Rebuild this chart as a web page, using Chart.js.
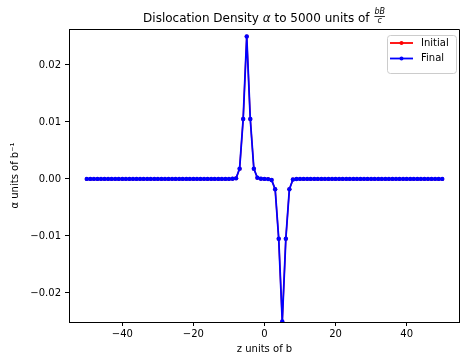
<!DOCTYPE html>
<html>
<head>
<meta charset="utf-8">
<script src="https://cdn.jsdelivr.net/npm/chart.js@4"></script>
<style>
  html, body { margin: 0; padding: 0; background: #fff; }
  #wrap { width: 460px; height: 360px; }
</style>
</head>
<body>
<div id="wrap"><canvas id="c" width="460" height="360"></canvas></div>
<script>
// z positions (units of b), -50..50
var zValues = [
  -50,-49,-48,-47,-46,-45,-44,-43,-42,-41,-40,-39,-38,-37,-36,-35,-34,-33,-32,-31,
  -30,-29,-28,-27,-26,-25,-24,-23,-22,-21,-20,-19,-18,-17,-16,-15,-14,-13,-12,-11,
  -10,-9,-8,-7,-6,-5,-4,-3,-2,-1,0,1,2,3,4,5,6,7,8,9,10,
  11,12,13,14,15,16,17,18,19,20,21,22,23,24,25,26,27,28,29,30,
  31,32,33,34,35,36,37,38,39,40,41,42,43,44,45,46,47,48,49,50
];
// alpha before relaxation
var initialAlpha = [
  0,0,0,0,0,0,0,0,0,0,0,0,0,0,0,0,0,0,0,0,
  0,0,0,0,0,0,0,0,0,0,0,0,0,0,0,0,0,0,0,0,
  0,0.00002,0.0001,0.0018,0.0105,0.025,0.0105,0.0018,0.0002,0.00003,0,
  -0.00003,-0.0002,-0.0018,-0.0105,-0.025,-0.0105,-0.0018,-0.0001,-0.00002,0,
  0,0,0,0,0,0,0,0,0,0,0,0,0,0,0,0,0,0,0,0,
  0,0,0,0,0,0,0,0,0,0,0,0,0,0,0,0,0,0,0,0
];
// alpha after 5000 units of bB/c
var finalAlpha = [
  0,0,0,0,0,0,0,0,0,0,0,0,0,0,0,0,0,0,0,0,
  0,0,0,0,0,0,0,0,0,0,0,0,0,0,0,0,0,0,0,0,
  0,0.00002,0.0001,0.0018,0.0105,0.025,0.0105,0.0018,0.0002,0.00003,0,
  -0.00003,-0.0002,-0.0018,-0.0105,-0.025,-0.0105,-0.0018,-0.0001,-0.00002,0,
  0,0,0,0,0,0,0,0,0,0,0,0,0,0,0,0,0,0,0,0,
  0,0,0,0,0,0,0,0,0,0,0,0,0,0,0,0,0,0,0,0
];
var xTicks = [-40, -20, 0, 20, 40];
var yTicks = [-0.02, -0.01, 0.00, 0.01, 0.02];
var seriesNames = ["Initial", "Final"];
var seriesColors = ["#ff0000", "#0000ff"];

var FONT = "'DejaVu Sans', sans-serif";

function pts(ys) { return zValues.map(function (z, i) { return { x: z, y: ys[i] }; }); }

// title with the bB/c fraction, top/right spines and a matplotlib-like legend
var decor = {
  id: "decor",
  afterDraw: function (chart) {
    var ctx = chart.ctx, a = chart.chartArea;
    ctx.save();
    ctx.strokeStyle = "#000"; ctx.lineWidth = 1;
    ctx.beginPath();
    ctx.moveTo(Math.round(a.left) + 0.5, Math.round(a.top) + 0.5);
    ctx.lineTo(Math.round(a.right) - 0.5, Math.round(a.top) + 0.5);
    ctx.lineTo(Math.round(a.right) - 0.5, Math.round(a.bottom) + 0.5);
    ctx.stroke();

    // title
    var parts = [
      { t: "Dislocation Density ", f: "12px " + FONT },
      { t: "α", f: "italic 12px " + FONT },
      { t: " to 5000 units of ", f: "12px " + FONT }
    ];
    var fracFont = "italic 8px " + FONT;
    var total = 0;
    parts.forEach(function (p) { ctx.font = p.f; p.w = ctx.measureText(p.t).width; total += p.w; });
    ctx.font = fracFont;
    var fw = Math.max(ctx.measureText("bB").width, ctx.measureText("c").width);
    total += fw + 2;
    var x = (a.left + a.right) / 2 - total / 2, base = 22;
    ctx.fillStyle = "#000"; ctx.textBaseline = "alphabetic"; ctx.textAlign = "left";
    parts.forEach(function (p) { ctx.font = p.f; ctx.fillText(p.t, x, base); x += p.w; });
    ctx.font = fracFont;
    ctx.textAlign = "center";
    ctx.fillText("bB", x + 1 + fw / 2, 14);
    ctx.fillText("c", x + 1 + fw / 2, 23);
    ctx.fillRect(x + 1, 16, fw, 0.8);

    // legend
    var lx = 387, ly = 35, lw = 69, lh = 38;
    ctx.fillStyle = "rgba(255,255,255,0.8)";
    ctx.strokeStyle = "#cccccc";
    ctx.beginPath();
    ctx.roundRect(lx + 0.5, ly + 0.5, lw, lh, 3);
    ctx.fill(); ctx.stroke();
    ctx.textAlign = "left"; ctx.textBaseline = "middle";
    ctx.font = "10px " + FONT;
    chart.data.datasets.forEach(function (ds, i) {
      var yy = ly + 8 + i * 15.5;
      ctx.strokeStyle = ds.borderColor; ctx.lineWidth = 1.8;
      ctx.beginPath(); ctx.moveTo(lx + 3, yy); ctx.lineTo(lx + 26, yy); ctx.stroke();
      ctx.fillStyle = ds.borderColor;
      ctx.beginPath(); ctx.arc(lx + 14.5, yy, 2, 0, Math.PI * 2); ctx.fill();
      ctx.fillStyle = "#000";
      ctx.fillText(ds.label, lx + 34, yy);
    });
    ctx.restore();
  }
};

new Chart(document.getElementById("c"), {
  type: "line",
  data: {
    datasets: [
      { label: seriesNames[0], data: pts(initialAlpha), borderColor: seriesColors[0],
        backgroundColor: seriesColors[0], borderWidth: 1.4, pointRadius: 2, pointBorderWidth: 0,
        tension: 0, order: 2 },
      { label: seriesNames[1], data: pts(finalAlpha), borderColor: seriesColors[1],
        backgroundColor: seriesColors[1], borderWidth: 1.8, pointRadius: 2.2, pointBorderWidth: 0,
        tension: 0, order: 1 }
    ]
  },
  options: {
    responsive: false,
    animation: false,
    layout: { autoPadding: false, padding: { top: 29, right: 0, left: 0, bottom: 0 } },
    plugins: { legend: { display: false }, tooltip: { enabled: false } },
    scales: {
      x: {
        type: "linear", min: -55, max: 55,
        afterFit: function (s) { s.height = 38; s.paddingLeft = 0; s.paddingRight = 0; },
        afterBuildTicks: function (s) { s.ticks = xTicks.map(function (v) { return { value: v }; }); },
        grid: { drawOnChartArea: false, drawTicks: true, tickLength: 4, color: "#000" },
        border: { display: true, color: "#000", width: 1 },
        ticks: { color: "#000", padding: 2, maxRotation: 0, font: { family: FONT, size: 10 },
          callback: function (v) { return v < 0 ? "\u2212" + Math.abs(v) : String(v); } },
        title: { display: true, text: "z units of b", color: "#000",
          font: { family: FONT, size: 10 }, padding: { top: 0, bottom: 5 } }
      },
      y: {
        type: "linear", min: -0.0251, max: 0.0263,
        afterFit: function (s) { s.width = 69; s.paddingTop = 0; s.paddingBottom = 0; },
        afterBuildTicks: function (s) { s.ticks = yTicks.map(function (v) { return { value: v }; }); },
        grid: { drawOnChartArea: false, drawTicks: true, tickLength: 4, color: "#000" },
        border: { display: true, color: "#000", width: 1 },
        ticks: { color: "#000", padding: 4, font: { family: FONT, size: 10 },
          callback: function (v) { var s = Math.abs(v).toFixed(2); return v < -1e-9 ? "\u2212" + s : s; } },
        title: { display: true, text: "α units of b⁻¹", color: "#000",
          font: { family: FONT, size: 10 }, padding: { top: 9, bottom: 0 } }
      }
    }
  },
  plugins: [decor]
});
</script>
</body>
</html>
